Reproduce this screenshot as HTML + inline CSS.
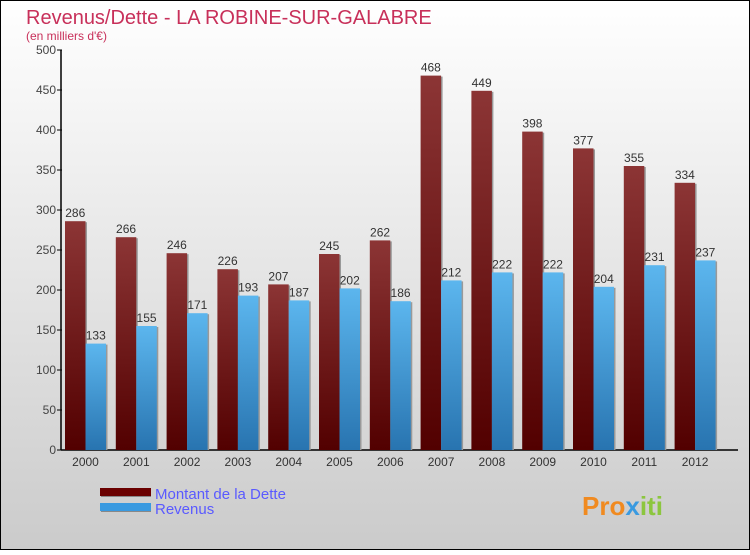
<!DOCTYPE html>
<html><head><meta charset="utf-8"><style>
body{margin:0;width:750px;height:550px;overflow:hidden;font-family:"Liberation Sans",sans-serif}
</style></head><body>
<svg width="750" height="550" xmlns="http://www.w3.org/2000/svg">
<defs>
<linearGradient id="bg" x1="0" y1="0" x2="0" y2="1"><stop offset="0" stop-color="#ffffff"/><stop offset="1" stop-color="#cbcbcb"/></linearGradient>
<linearGradient id="gd" x1="0" y1="0" x2="0" y2="1"><stop offset="0" stop-color="#8c3535"/><stop offset="1" stop-color="#520000"/></linearGradient>
<linearGradient id="gr" x1="0" y1="0" x2="0" y2="1"><stop offset="0" stop-color="#5cb6ee"/><stop offset="1" stop-color="#2874b0"/></linearGradient>
</defs>
<rect x="0.5" y="0.5" width="749" height="549" fill="url(#bg)" stroke="#000"/>
<text x="26" y="24" font-size="20" fill="#c8305a">Revenus/Dette - LA ROBINE-SUR-GALABRE</text>
<text x="26" y="40" font-size="12" fill="#c8305a">(en milliers d'€)</text>
<g id="axes"></g>
<g id="bars"></g>
<g>
<rect x="101" y="489" width="50" height="8" fill="#888"/><rect x="100" y="488" width="51" height="8" fill="#6a0000"/>
<rect x="101" y="504" width="50" height="8" fill="#888"/><rect x="100" y="503" width="51" height="8" fill="#3a9ae0"/>
<text x="155" y="499" font-size="15" fill="#5a5aff">Montant de la Dette</text>
<text x="155" y="514" font-size="15" fill="#5a5aff">Revenus</text>
</g>
<text x="582" y="515" font-size="26" font-weight="bold" fill="#f08a20">Pro<tspan fill="#3a9ae0">x</tspan><tspan fill="#8cc63f">iti</tspan></text>
</svg>
<script>
const years=["2000","2001","2002","2003","2004","2005","2006","2007","2008","2009","2010","2011","2012"];
const dette=[286,266,246,226,207,245,262,468,449,398,377,355,334];
const revenus=[133,155,171,193,187,202,186,212,222,222,204,231,237];
const yTicks=[0,50,100,150,200,250,300,350,400,450,500];
const NS="http://www.w3.org/2000/svg";
const x0=61,y0=450,yTop=50,pitch=50.8,bw=20.5;
const y=v=>y0-(v/500)*(y0-yTop);
function mk(t,a,p){const e=document.createElementNS(NS,t);for(const k in a)e.setAttribute(k,a[k]);p.appendChild(e);return e;}
const ax=document.getElementById('axes'),bars=document.getElementById('bars');
const yl=mk('line',{x1:x0,y1:yTop,x2:x0,y2:y0,stroke:'#000','stroke-width':1.5},ax);


const xl=mk('line',{x1:x0,y1:y0,x2:738,y2:y0,stroke:'#000','stroke-width':1.5},ax);


yTicks.forEach(v=>{
 mk('line',{x1:x0-4,y1:y(v),x2:x0+1,y2:y(v),stroke:'#000'},ax);
 const t=mk('text',{x:x0-5,y:y(v)+4,'font-size':12,fill:'#444','text-anchor':'end'},ax);t.textContent=v;
 
 
});
years.forEach((yr,i)=>{
 const gx=x0+4+i*pitch;
 const d=dette[i],r=revenus[i];
 mk('rect',{x:gx+1.5,y:y(d)+1,width:bw,height:y0-y(d)-1,fill:'#999'},bars);
 const b1=mk('rect',{x:gx,y:y(d),width:bw,height:y0-y(d),fill:'url(#gd)'},bars);
 
 
 mk('rect',{x:gx+bw+1.5,y:y(r)+1,width:bw,height:y0-y(r)-1,fill:'#999'},bars);
 const b2=mk('rect',{x:gx+bw,y:y(r),width:bw,height:y0-y(r),fill:'url(#gr)'},bars);
 
 
 const t1=mk('text',{x:gx+bw/2,y:y(d)-4,'font-size':12,fill:'#333','text-anchor':'middle'},bars);t1.textContent=d;
 
 
 const t2=mk('text',{x:gx+bw*1.5,y:y(r)-4,'font-size':12,fill:'#333','text-anchor':'middle'},bars);t2.textContent=r;
 
 
 const tx=mk('text',{x:gx+bw,y:466,'font-size':12,fill:'#333','text-anchor':'middle'},ax);tx.textContent=yr;
 
 
});
</script>
</body></html>
